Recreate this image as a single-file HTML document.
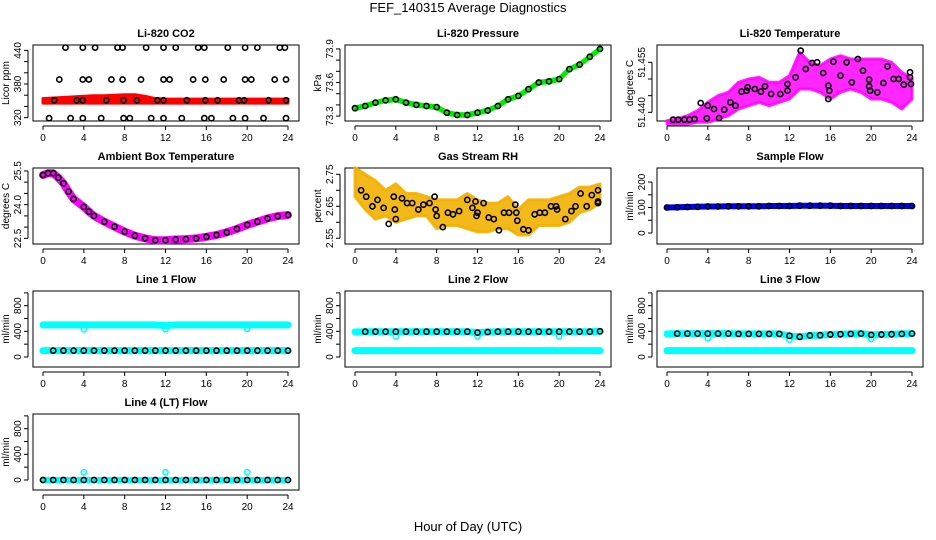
<!DOCTYPE html>
<html><head><meta charset="utf-8">
<style>
html,body{margin:0;padding:0;background:#fff;}
svg{display:block;font-family:"Liberation Sans",Arial,sans-serif;}
</style></head>
<body>
<svg id="chart" width="936" height="540" viewBox="0 0 936 540" xmlns="http://www.w3.org/2000/svg">
<text x="468" y="12" text-anchor="middle" font-size="13">FEF_140315  Average Diagnostics</text>
<text x="468" y="531" text-anchor="middle" font-size="13">Hour of Day (UTC)</text>
</svg>
<script>
// ---- data ----
const hours = [0,1,2,3,4,5,6,7,8,9,10,11,12,13,14,15,16,17,18,19,20,21,22,23,24];
const xTicks = [0,4,8,12,16,20,24];

const co2BandLo = [346,346,346,346,346,346,346,346,346,346,346,346,346,346,346,346,346,346,346,346,346,346,346,346,346];
const co2BandHi = [354,355,356,357,358,359,359,360,361,361,358,354,353,353,353,353,353,353,353,353,353,353,353,353,353];
const co2BlackX = [2.2,3.9,5.1,7.3,7.8,10.1,11.8,13,15.2,15.8,18.1,19.8,21,23.2,23.7, 1.6,3.9,4.5,6.7,7.8,9.6,11.8,12.4,14.7,15.9,17.7,19.8,20.4,22.7,23.8, 1.1,3.3,3.9,6.2,7.9,9.2,11.2,11.8,14.1,15.9,17.1,19.2,19.7,22.1,23.8, 0.6,2.7,3.9,5.7,7.9,8.5,10.6,11.8,13.6,15.8,16.5,18.6,19.8,21.6,23.8];
const co2BlackY = [445,445,445,445,445,445,445,445,445,445,445,445,445,445,445, 388,388,388,388,388,388,388,388,388,388,388,388,388,388,388, 351,351,351,351,351,351,351,351,351,351,351,351,351,351,351, 319,319,319,319,319,319,319,319,319,319,319,319,319,319,319];

const presVals = [73.37,73.39,73.42,73.44,73.45,73.42,73.40,73.39,73.38,73.33,73.31,73.31,73.33,73.35,73.39,73.45,73.48,73.54,73.60,73.61,73.63,73.72,73.76,73.83,73.90];

const tempBandHi = [51.4375,51.438,51.439,51.4405,51.443,51.445,51.446,51.449,51.450,51.4505,51.449,51.449,51.451,51.458,51.455,51.454,51.456,51.457,51.456,51.456,51.456,51.456,51.455,51.452,51.450];
const tempBandLo = [51.4365,51.4365,51.4365,51.437,51.437,51.438,51.439,51.441,51.442,51.443,51.442,51.443,51.444,51.447,51.447,51.446,51.444,51.446,51.447,51.446,51.444,51.444,51.443,51.441,51.444];
const tempBlackX = [0.6,1.1,1.7,2.2,2.7,3.3,3.9,4.0,4.6,5.1,5.6,6.2,6.7,7.3,7.8,7.9,8.6,9.2,9.6,10.2,11.1,11.8,11.8,12.6,13.1,13.6,14.2,14.7,15.3,15.8,15.9,15.8,16.3,17.0,17.6,18.1,18.7,19.2,19.8,19.8,19.9,20.6,21.2,21.6,22.2,22.7,23.2,23.8,23.8,23.9];
const tempBlackY = [51.4378,51.4378,51.4378,51.4378,51.4380,51.4428,51.4382,51.4420,51.4410,51.4383,51.4408,51.4430,51.4420,51.4462,51.4465,51.4475,51.4470,51.4462,51.4478,51.4455,51.4455,51.4485,51.4465,51.4505,51.4585,51.4530,51.4548,51.4550,51.4518,51.4480,51.4465,51.4440,51.4552,51.4510,51.4550,51.4490,51.4560,51.4525,51.4498,51.4478,51.4465,51.4460,51.4488,51.4538,51.4500,51.4500,51.4483,51.4520,51.4505,51.4485];

const ambX = [0,0.5,1,1.5,2,2.5,3,4,4.5,5,6,7,8,9,10,11,12,13,14,15,16,17,18,19,20,21,22,23,24];
const ambVals = [25.32,25.4,25.4,25.2,24.95,24.58,24.25,23.9,23.69,23.5,23.24,23.02,22.8,22.62,22.5,22.42,22.42,22.45,22.47,22.5,22.57,22.65,22.77,22.92,23.1,23.24,23.39,23.49,23.54];

const rhBandHi = [2.77,2.75,2.73,2.70,2.72,2.69,2.69,2.68,2.67,2.67,2.67,2.69,2.67,2.66,2.66,2.68,2.64,2.67,2.67,2.67,2.68,2.69,2.71,2.71,2.72];
const rhBandLo = [2.68,2.64,2.61,2.62,2.60,2.61,2.62,2.62,2.58,2.59,2.59,2.58,2.57,2.57,2.58,2.58,2.56,2.56,2.59,2.59,2.59,2.60,2.63,2.64,2.66];
const rhBlackX = [0.6,1.1,1.7,2.2,2.8,3.3,3.8,3.9,4.0,4.6,5.1,5.6,6.2,6.7,7.3,7.8,7.9,8.0,8.6,9.1,9.6,10.2,11.0,11.5,11.8,11.9,12.0,12.6,13.1,13.6,14.1,14.6,15.1,15.7,15.8,15.9,16.5,17.0,17.6,18.1,18.6,19.2,19.7,19.8,20.6,21.2,21.6,22.1,22.7,23.2,23.8,23.8,23.8];
const rhBlackY = [2.70,2.68,2.65,2.67,2.645,2.595,2.68,2.64,2.61,2.675,2.66,2.66,2.64,2.655,2.66,2.68,2.64,2.62,2.585,2.63,2.625,2.635,2.67,2.645,2.665,2.62,2.63,2.66,2.615,2.61,2.575,2.63,2.63,2.655,2.63,2.605,2.578,2.575,2.625,2.63,2.63,2.65,2.65,2.64,2.61,2.635,2.65,2.69,2.65,2.685,2.70,2.665,2.66];

const sampleVals = [100,101,102,103,104,104,105,105,105,105,106,106,106,107,107,107,107,106,106,106,106,106,106,106,106];

const line1Cyan = [500,500,500,500,500,500,500,500,500,500,500,500,490,500,500,500,500,500,500,500,500,500,500,500,500];
const line1Low = [100,100,100,100,100,100,100,100,100,100,100,100,100,100,100,100,100,100,100,100,100,100,100,100,100];
const line2Black = [390,395,395,395,395,395,395,395,395,395,395,395,380,390,395,395,395,395,395,395,395,395,395,395,400];
const line2Cyan = [100,100,100,100,100,100,100,100,100,100,100,100,100,100,100,100,100,100,100,100,100,100,100,100,100];
const line3Black = [360,365,365,365,365,365,365,360,360,360,360,360,330,315,335,340,350,355,360,365,345,350,355,360,365];
const line3Cyan = [100,100,100,100,100,100,100,100,100,100,100,100,100,100,100,100,100,100,100,100,100,100,100,100,100];
const line4Black = [0,0,0,0,0,0,0,0,0,0,0,0,0,0,0,0,0,0,0,0,0,0,0,0,0];
const flowOutX = [4,12,20];
const line1Out = [430,430,440];
const line2Out = [320,320,320];
const line3Out = [290,270,280];
const line4Out = [120,120,120];

// ---- rendering ----
const svg = document.getElementById('chart');
const NS = 'http://www.w3.org/2000/svg';
function mk(tag, attrs, parent){
  const e = document.createElementNS(NS, tag);
  for (const k in attrs) e.setAttribute(k, attrs[k]);
  (parent||svg).appendChild(e);
  return e;
}

const panels = [
 {key:'co2',title:'Li-820 CO2',ylab:'Licor ppm',col:0,row:0,ymin:314,ymax:449.6,ticks:[320,340,360,380,400,420,440],labs:[320,380,440],fmt:0},
 {key:'pressure',title:'Li-820 Pressure',ylab:'kPa',col:1,row:0,ymin:73.256,ymax:73.935,ticks:[73.3,73.4,73.5,73.6,73.7,73.8,73.9],labs:[73.3,73.6,73.9],fmt:1},
 {key:'temperature',title:'Li-820 Temperature',ylab:'degrees C',col:2,row:0,ymin:51.4374,ymax:51.4602,ticks:[51.44,51.445,51.45,51.455],labs:[51.44,51.455],fmt:3},
 {key:'ambient',title:'Ambient Box Temperature',ylab:'degrees C',col:0,row:1,ymin:22.25,ymax:25.63,ticks:[22.5,23,23.5,24,24.5,25,25.5],labs:[22.5,24,25.5],fmt:1},
 {key:'rh',title:'Gas Stream RH',ylab:'percent',col:1,row:1,ymin:2.532,ymax:2.7697,ticks:[2.55,2.6,2.65,2.7,2.75],labs:[2.55,2.65,2.75],fmt:2},
 {key:'sample',title:'Sample Flow',ylab:'ml/min',col:2,row:1,ymin:-43,ymax:255,ticks:[0,50,100,150,200],labs:[0,100,200],fmt:0},
 {key:'line1',title:'Line 1 Flow',ylab:'ml/min',col:0,row:2,ymin:-156,ymax:1029,ticks:[0,200,400,600,800,1000],labs:[0,400,800],fmt:0},
 {key:'line2',title:'Line 2 Flow',ylab:'ml/min',col:1,row:2,ymin:-156,ymax:1029,ticks:[0,200,400,600,800,1000],labs:[0,400,800],fmt:0},
 {key:'line3',title:'Line 3 Flow',ylab:'ml/min',col:2,row:2,ymin:-156,ymax:1029,ticks:[0,200,400,600,800,1000],labs:[0,400,800],fmt:0},
 {key:'line4',title:'Line 4 (LT) Flow',ylab:'ml/min',col:0,row:3,ymin:-156,ymax:1029,ticks:[0,200,400,600,800,1000],labs:[0,400,800],fmt:0}
];

function geom(p){
  const L = 33 + 312*p.col, R = 299 + 312*p.col;
  const T = 45 + 123*p.row, B = T + 76;
  const sx = h => L + 10 + h*245/24;
  const sy = v => T + (p.ymax - v)/(p.ymax - p.ymin)*(B - T);
  return {L,R,T,B,sx,sy};
}

function band(g, xs, lo, hi, color, name, op){
  let d = '';
  xs.forEach((x,i)=>{ d += (i?'L':'M') + g.sx(x).toFixed(1) + ',' + g.sy(hi[i]).toFixed(1); });
  for (let i = xs.length-1; i >= 0; i--) d += 'L' + g.sx(xs[i]).toFixed(1) + ',' + g.sy(lo[i]).toFixed(1);
  d += 'Z';
  const e = mk('path',{d:d,fill:color,stroke:color,'stroke-width':3,'stroke-linejoin':'round','fill-opacity':op||1,'stroke-opacity':op||1});
  
  
}
function line(g, xs, ys, color, w, name){
  const pts = xs.map((x,i)=>g.sx(x).toFixed(1)+','+g.sy(ys[i]).toFixed(1)).join(' ');
  const e = mk('polyline',{points:pts,fill:'none',stroke:color,'stroke-width':w,'stroke-linejoin':'round','stroke-linecap':'round'});
  
  
}
function pts(g, xs, ys, color, name){
  const grp = mk('g',{});
  
  
  xs.forEach((x,i)=>{
    const c = mk('circle',{cx:g.sx(x).toFixed(1),cy:g.sy(ys[i]).toFixed(1),r:2.6,fill:'none',stroke:color,'stroke-width':1.6},grp);
    
    
  });
}

panels.forEach(p=>{
  const g = geom(p);
  const grp = mk('g',{});
  
  
  const cx = (g.L+g.R)/2;
  const t = mk('text',{x:cx,y:g.T-8,'text-anchor':'middle','font-size':11,'font-weight':'bold'},grp);
  t.textContent = p.title;
  
  
  const yl = mk('text',{x:0,y:0,'text-anchor':'middle','font-size':10,transform:`translate(${g.L-24},${(g.T+g.B)/2}) rotate(-90)`},grp);
  yl.textContent = p.ylab;
  
  

  const k = p.key;
  if (k==='co2'){ band(g,hours,co2BandLo,co2BandHi,'#ff0000','co2-red-series'); pts(g,co2BlackX,co2BlackY,'#000','co2-black-series'); }
  if (k==='pressure'){
    const lo = presVals.map(v=>v-0.012), hi = presVals.map(v=>v+0.012);
    band(g,hours,lo,hi,'#00ee00','pressure-green-series'); pts(g,hours,presVals,'#000','pressure-black-series');
  }
  if (k==='temperature'){ band(g,hours,tempBandLo,tempBandHi,'#ff00ff','temperature-magenta-series',0.85); pts(g,tempBlackX,tempBlackY,'#000','temperature-black-series'); }
  if (k==='ambient'){ line(g,ambX,ambVals,'#ff00ff',8,'ambient-magenta-series'); pts(g,ambX,ambVals,'#000','ambient-black-series'); }
  if (k==='rh'){ band(g,hours,rhBandLo,rhBandHi,'#f2b000','rh-orange-series',0.9); pts(g,rhBlackX,rhBlackY,'#000','rh-black-series'); }
  if (k==='sample'){ line(g,hours,sampleVals,'#0000ff',6,'sample-blue-series'); pts(g,hours,sampleVals,'#000','sample-black-series'); }
  if (k==='line1'){ line(g,hours,line1Cyan,'#00ffff',7,'line1-cyan-upper'); line(g,hours,line1Low,'#00ffff',7,'line1-cyan-lower'); pts(g,flowOutX,line1Out,'#00ffff','line1-cyan-outliers'); pts(g,hours.slice(1),line1Low.slice(1),'#000','line1-black-series'); }
  if (k==='line2'){ line(g,hours,line2Black,'#00ffff',7,'line2-cyan-upper'); line(g,hours,line2Cyan,'#00ffff',7,'line2-cyan-lower'); pts(g,flowOutX,line2Out,'#00ffff','line2-cyan-outliers'); pts(g,hours.slice(1),line2Black.slice(1),'#000','line2-black-series'); }
  if (k==='line3'){ line(g,hours,line3Black,'#00ffff',7,'line3-cyan-upper'); line(g,hours,line3Cyan,'#00ffff',7,'line3-cyan-lower'); pts(g,flowOutX,line3Out,'#00ffff','line3-cyan-outliers'); pts(g,hours.slice(1),line3Black.slice(1),'#000','line3-black-series'); }
  if (k==='line4'){ line(g,hours,line4Black,'#00ffff',6,'line4-cyan-series'); pts(g,flowOutX,line4Out,'#00ffff','line4-cyan-outliers'); pts(g,hours,line4Black,'#000','line4-black-series'); }

  const box = mk('rect',{x:g.L,y:g.T,width:g.R-g.L,height:g.B-g.T,fill:'none',stroke:'#000','stroke-width':1},grp);
  
  

  const xa = mk('g',{},grp);
  
  
  mk('line',{x1:g.sx(0),x2:g.sx(24),y1:g.B+5,y2:g.B+5,stroke:'#000'},xa);
  xTicks.forEach(h=>{
    mk('line',{x1:g.sx(h),x2:g.sx(h),y1:g.B+5,y2:g.B+9,stroke:'#000'},xa);
    const tl = mk('text',{x:g.sx(h),y:g.B+20,'text-anchor':'middle','font-size':10},xa);
    tl.textContent = h;
    
    
  });
  const ya = mk('g',{},grp);
  
  
  const y0 = g.sy(p.ticks[0]), y1 = g.sy(p.ticks[p.ticks.length-1]);
  mk('line',{x1:g.L-5,x2:g.L-5,y1:y0,y2:y1,stroke:'#000'},ya);
  p.ticks.forEach(v=>{ mk('line',{x1:g.L-9,x2:g.L-5,y1:g.sy(v),y2:g.sy(v),stroke:'#000'},ya); });
  p.labs.forEach(v=>{
    const tl = mk('text',{x:0,y:0,'text-anchor':'middle','font-size':10,transform:`translate(${g.L-12},${g.sy(v)}) rotate(-90)`},ya);
    tl.textContent = v.toFixed(p.fmt);
    
    
  });
});
</script>
</body></html>
